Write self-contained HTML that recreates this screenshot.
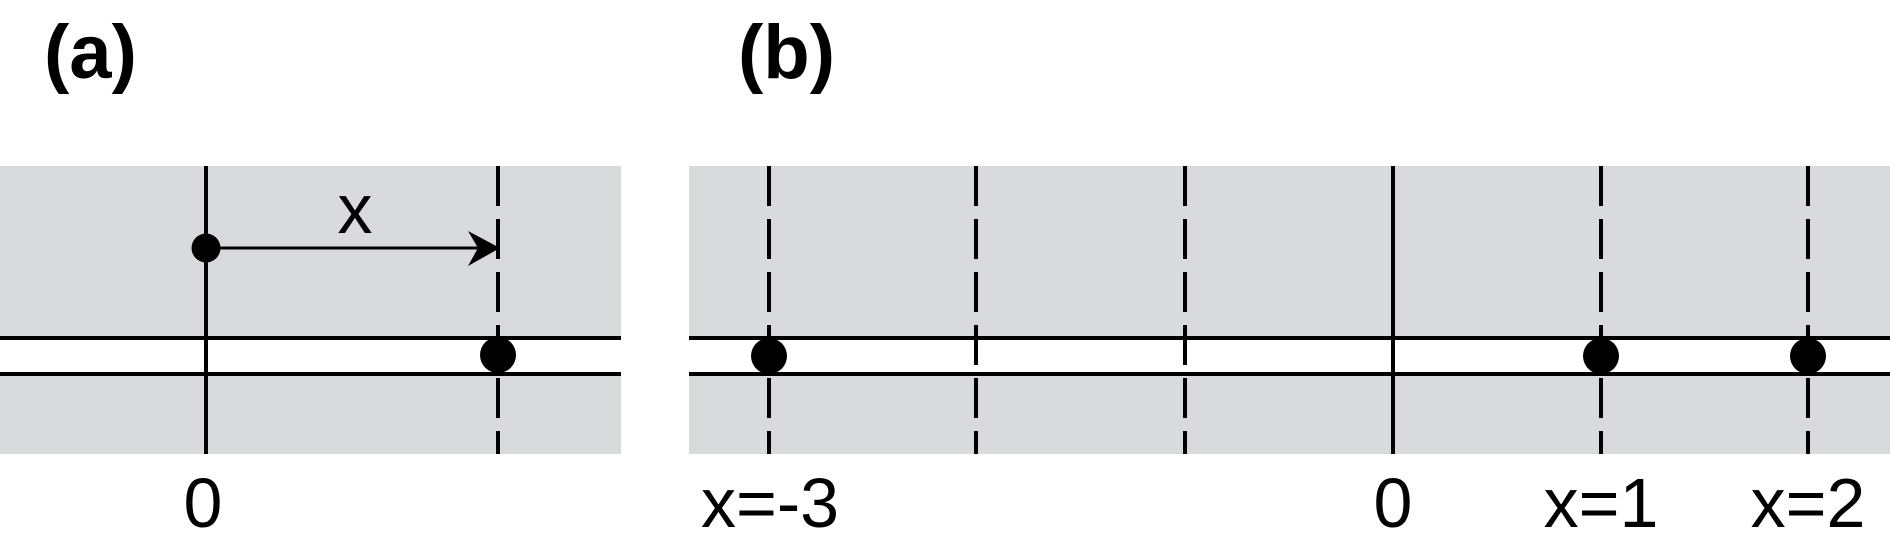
<!DOCTYPE html>
<html><head><meta charset="utf-8"><style>html,body{margin:0;padding:0;background:#fff}svg{display:block}</style></head>
<body>
<svg width="1890" height="548" viewBox="0 0 1890 548" xmlns="http://www.w3.org/2000/svg" font-family="Liberation Sans, sans-serif">
<rect x="0" y="166" width="621" height="288" fill="#d9dadc"/>
<rect x="689" y="166" width="1201" height="288" fill="#d9dadc"/>
<rect x="0" y="338" width="621" height="36" fill="#fff"/>
<rect x="689" y="338" width="1201" height="36" fill="#fff"/>
<g stroke="#000" stroke-width="4">
<line x1="0" y1="338" x2="621" y2="338"/><line x1="0" y1="374" x2="621" y2="374"/>
<line x1="689" y1="338" x2="1890" y2="338"/><line x1="689" y1="374" x2="1890" y2="374"/>
<line x1="206" y1="166" x2="206" y2="454"/>
<line x1="1393" y1="166" x2="1393" y2="454"/>
<g stroke-dasharray="40 13">
<line x1="498" y1="166" x2="498" y2="454"/>
<line x1="769" y1="166" x2="769" y2="454"/>
<line x1="976" y1="166" x2="976" y2="454"/>
<line x1="1185" y1="166" x2="1185" y2="454"/>
<line x1="1601" y1="166" x2="1601" y2="454"/>
<line x1="1808" y1="166" x2="1808" y2="454"/>
</g>
<line x1="206" y1="248" x2="485" y2="248" stroke-width="3"/>
</g>
<path d="M500,248 L468,231 L478,248 L468,266 Z" fill="#000"/>
<circle cx="206" cy="248" r="14.5" fill="#000"/>
<circle cx="498" cy="355" r="18" fill="#000"/>
<circle cx="769" cy="356" r="18" fill="#000"/>
<circle cx="1601" cy="356" r="18" fill="#000"/>
<circle cx="1808" cy="356" r="18" fill="#000"/>
<g font-size="76" font-weight="bold">
<text x="44" y="78">(a)</text>
<text x="738" y="78">(b)</text>
</g>
<g font-size="70" text-anchor="middle">
<text x="355" y="233">x</text>
<text x="203" y="527">0</text>
<text x="1393" y="527">0</text>
<text x="770" y="527">x=-3</text>
<text x="1601" y="527">x=1</text>
<text x="1808" y="527">x=2</text>
</g>
</svg>
</body></html>
